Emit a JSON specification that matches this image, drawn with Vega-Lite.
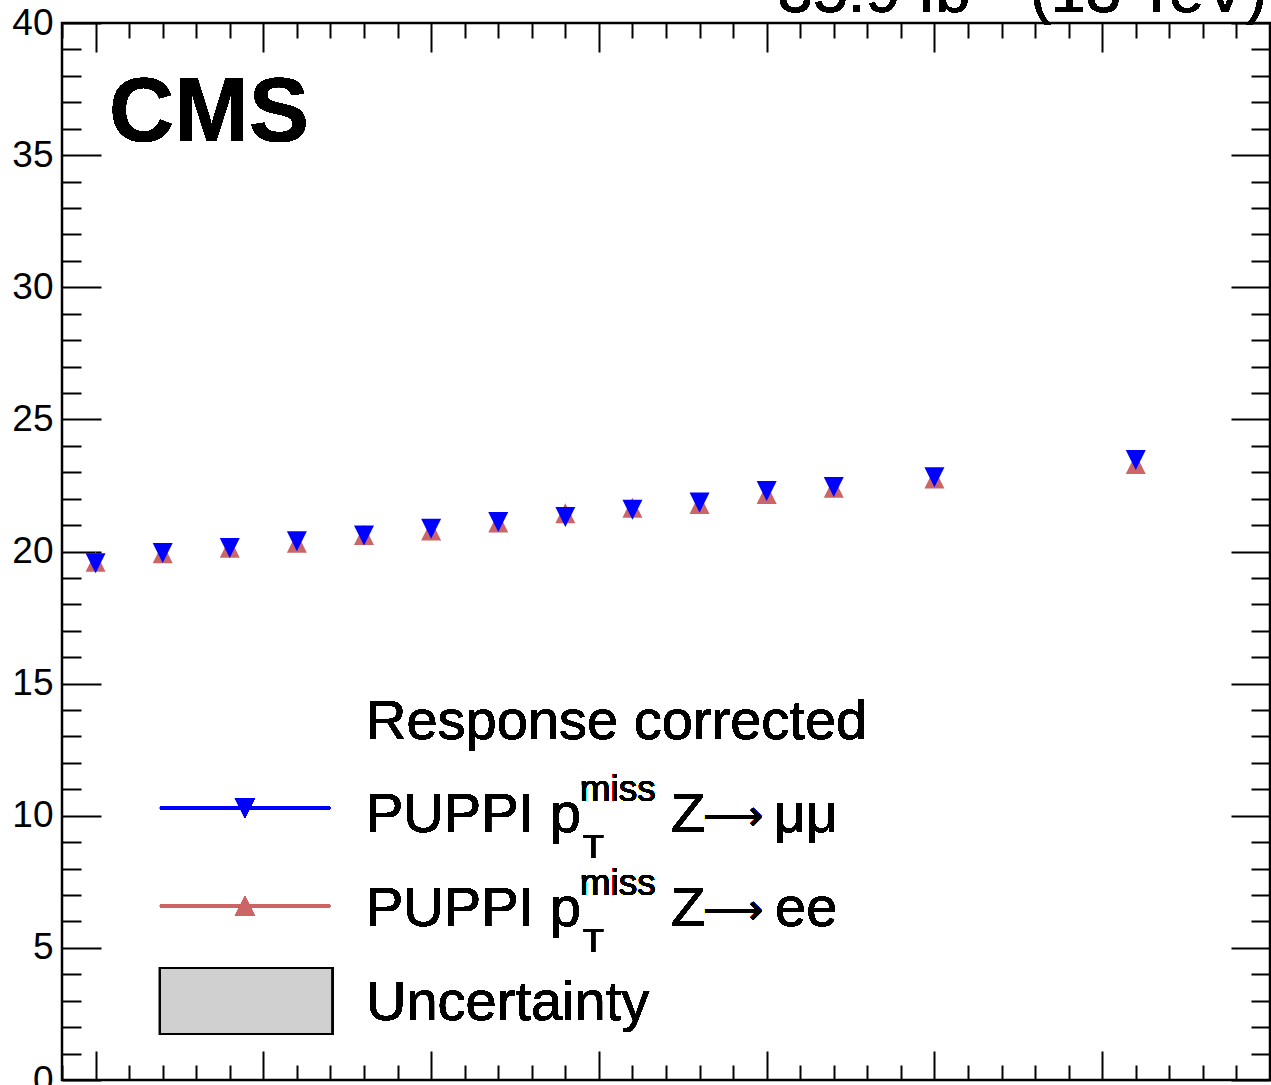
{
  "$schema": "https://vega.github.io/schema/vega-lite/v6.json",
  "width": 1208,
  "height": 1057,
  "autosize": {"type": "none"},
  "padding": {"left": 62, "top": 23, "right": 1, "bottom": 5},
  "background": "white",
  "config": {
    "view": {"stroke": "black", "strokeWidth": 2.5},
    "font": "Liberation Sans",
    "text": {"font": "Liberation Sans", "color": "black"},
    "axis": {"domain": false, "grid": false, "tickColor": "black", "tickWidth": 2, "labelFont": "Liberation Sans", "labelColor": "black", "title": null}
  },
  "data": {
    "values": [
      {"qt": 50, "res": 19.61, "ch": "ee"},
      {"qt": 70, "res": 19.93, "ch": "ee"},
      {"qt": 90, "res": 20.14, "ch": "ee"},
      {"qt": 110, "res": 20.33, "ch": "ee"},
      {"qt": 130, "res": 20.62, "ch": "ee"},
      {"qt": 150, "res": 20.79, "ch": "ee"},
      {"qt": 170, "res": 21.1, "ch": "ee"},
      {"qt": 190, "res": 21.45, "ch": "ee"},
      {"qt": 210, "res": 21.66, "ch": "ee"},
      {"qt": 230, "res": 21.8, "ch": "ee"},
      {"qt": 250, "res": 22.18, "ch": "ee"},
      {"qt": 270, "res": 22.41, "ch": "ee"},
      {"qt": 300, "res": 22.76, "ch": "ee"},
      {"qt": 360, "res": 23.31, "ch": "ee"},
      {"qt": 50, "res": 19.56, "ch": "mumu"},
      {"qt": 70, "res": 19.94, "ch": "mumu"},
      {"qt": 90, "res": 20.13, "ch": "mumu"},
      {"qt": 110, "res": 20.39, "ch": "mumu"},
      {"qt": 130, "res": 20.61, "ch": "mumu"},
      {"qt": 150, "res": 20.86, "ch": "mumu"},
      {"qt": 170, "res": 21.12, "ch": "mumu"},
      {"qt": 190, "res": 21.31, "ch": "mumu"},
      {"qt": 210, "res": 21.58, "ch": "mumu"},
      {"qt": 230, "res": 21.85, "ch": "mumu"},
      {"qt": 250, "res": 22.29, "ch": "mumu"},
      {"qt": 270, "res": 22.44, "ch": "mumu"},
      {"qt": 300, "res": 22.81, "ch": "mumu"},
      {"qt": 360, "res": 23.46, "ch": "mumu"}
    ]
  },
  "resolve": {"axis": {"x": "independent", "y": "independent"}},
  "layer": [
    {
      "mark": {"type": "point", "filled": true, "opacity": 1, "size": 400, "strokeWidth": 0},
      "encoding": {
        "x": {"field": "qt", "type": "quantitative",
          "scale": {"domain": [40, 400], "nice": false, "zero": false},
          "axis": {"orient": "bottom", "values": [50, 100, 150, 200, 250, 300, 350], "tickSize": -29, "labels": false}},
        "y": {"field": "res", "type": "quantitative",
          "scale": {"domain": [0, 40], "nice": false, "zero": false},
          "axis": {"orient": "left", "values": [0, 5, 10, 15, 20, 25, 30, 35, 40], "tickSize": -39, "labelPadding": 48, "labelFontSize": 37, "labelFlush": false, "labelOverlap": false, "labelBound": false, "labelBaseline": "middle"}},
        "shape": {"field": "ch", "type": "nominal", "legend": null,
          "scale": {"domain": ["mumu", "ee"], "range": ["M-1,-1L1,-1L0,1Z", "M-1,1L1,1L0,-1Z"]}},
        "color": {"field": "ch", "type": "nominal", "legend": null,
          "scale": {"domain": ["mumu", "ee"], "range": ["#0000ff", "#cc6666"]}}
      }
    },
    {
      "mark": {"type": "rule", "color": "#0000ff", "strokeWidth": 2.5},
      "encoding": {
        "x": {"datum": 69.2, "type": "quantitative",
          "scale": {"domain": [40, 400], "nice": false, "zero": false},
          "axis": {"orient": "bottom", "values": [40, 60, 70, 80, 90, 110, 120, 130, 140, 160, 170, 180, 190, 210, 220, 230, 240, 260, 270, 280, 290, 310, 320, 330, 340, 360, 370, 380, 390], "tickSize": -15, "labels": false}},
        "x2": {"datum": 119.9},
        "y": {"datum": 10.29, "type": "quantitative",
          "scale": {"domain": [0, 40], "nice": false, "zero": false},
          "axis": {"orient": "left", "values": [1, 2, 3, 4, 6, 7, 8, 9, 11, 12, 13, 14, 16, 17, 18, 19, 21, 22, 23, 24, 26, 27, 28, 29, 31, 32, 33, 34, 36, 37, 38, 39], "tickSize": -19, "labels": false}}
      }
    },
    {
      "mark": {"type": "rule", "color": "#cc6666", "strokeWidth": 2.5},
      "encoding": {
        "x": {"datum": 69.2, "type": "quantitative",
          "scale": {"domain": [40, 400], "nice": false, "zero": false},
          "axis": {"orient": "top", "values": [50, 100, 150, 200, 250, 300, 350], "tickSize": -29, "labels": false}},
        "x2": {"datum": 119.9},
        "y": {"datum": 6.585, "type": "quantitative",
          "scale": {"domain": [0, 40], "nice": false, "zero": false},
          "axis": {"orient": "right", "values": [0, 5, 10, 15, 20, 25, 30, 35, 40], "tickSize": -39, "labels": false}}
      }
    },
    {
      "mark": {"type": "rect", "fill": "#d0d0d0", "stroke": "black", "strokeWidth": 2},
      "encoding": {
        "x": {"datum": 69.2, "type": "quantitative",
          "scale": {"domain": [40, 400], "nice": false, "zero": false},
          "axis": {"orient": "top", "values": [40, 60, 70, 80, 90, 110, 120, 130, 140, 160, 170, 180, 190, 210, 220, 230, 240, 260, 270, 280, 290, 310, 320, 330, 340, 360, 370, 380, 390], "tickSize": -15, "labels": false}},
        "x2": {"datum": 120.5},
        "y": {"datum": 4.24, "type": "quantitative",
          "scale": {"domain": [0, 40], "nice": false, "zero": false},
          "axis": {"orient": "right", "values": [1, 2, 3, 4, 6, 7, 8, 9, 11, 12, 13, 14, 16, 17, 18, 19, 21, 22, 23, 24, 26, 27, 28, 29, 31, 32, 33, 34, 36, 37, 38, 39], "tickSize": -19, "labels": false}},
        "y2": {"datum": 1.74}
      }
    },
    {
      "mark": {"type": "point", "filled": true, "opacity": 1, "size": 400, "strokeWidth": 0, "shape": "M-1,-1L1,-1L0,1Z", "color": "#0000ff"},
      "encoding": {
        "x": {"datum": 94.5, "type": "quantitative", "axis": null, "scale": {"domain": [40, 400], "nice": false, "zero": false}},
        "y": {"datum": 10.29, "type": "quantitative", "axis": null, "scale": {"domain": [0, 40], "nice": false, "zero": false}}
      }
    },
    {
      "mark": {"type": "point", "filled": true, "opacity": 1, "size": 400, "strokeWidth": 0, "shape": "M-1,1L1,1L0,-1Z", "color": "#cc6666"},
      "encoding": {
        "x": {"datum": 94.5, "type": "quantitative", "axis": null, "scale": {"domain": [40, 400], "nice": false, "zero": false}},
        "y": {"datum": 6.585, "type": "quantitative", "axis": null, "scale": {"domain": [0, 40], "nice": false, "zero": false}}
      }
    },
    {
      "mark": {"type": "text", "text": "35.9 fb⁻¹ (13 TeV)", "fontSize": 63, "align": "right", "baseline": "alphabetic", "clip": false},
      "encoding": {
        "x": {"datum": 399.1, "type": "quantitative", "axis": null, "scale": {"domain": [40, 400], "nice": false, "zero": false}},
        "y": {"datum": 40.42, "type": "quantitative", "axis": null, "scale": {"domain": [0, 40], "nice": false, "zero": false}}
      }
    },
    {
      "mark": {"type": "text", "text": "CMS", "fontSize": 90, "fontWeight": "bold", "align": "left", "baseline": "alphabetic"},
      "encoding": {
        "x": {"datum": 54.0, "type": "quantitative", "axis": null, "scale": {"domain": [40, 400], "nice": false, "zero": false}},
        "y": {"datum": 35.55, "type": "quantitative", "axis": null, "scale": {"domain": [0, 40], "nice": false, "zero": false}}
      }
    },
    {
      "mark": {"type": "text", "text": "Response corrected", "fontSize": 56, "align": "left", "baseline": "alphabetic"},
      "encoding": {
        "x": {"datum": 130.6, "type": "quantitative", "axis": null, "scale": {"domain": [40, 400], "nice": false, "zero": false}},
        "y": {"datum": 12.9, "type": "quantitative", "axis": null, "scale": {"domain": [0, 40], "nice": false, "zero": false}}
      }
    },
    {
      "mark": {"type": "text", "text": "PUPPI p", "fontSize": 56, "align": "left", "baseline": "alphabetic"},
      "encoding": {
        "x": {"datum": 130.6, "type": "quantitative", "axis": null, "scale": {"domain": [40, 400], "nice": false, "zero": false}},
        "y": {"datum": 9.385, "type": "quantitative", "axis": null, "scale": {"domain": [0, 40], "nice": false, "zero": false}}
      }
    },
    {
      "mark": {"type": "text", "text": "miss", "fontSize": 37, "align": "left", "baseline": "alphabetic"},
      "encoding": {
        "x": {"datum": 194.3, "type": "quantitative", "axis": null, "scale": {"domain": [40, 400], "nice": false, "zero": false}},
        "y": {"datum": 10.56, "type": "quantitative", "axis": null, "scale": {"domain": [0, 40], "nice": false, "zero": false}}
      }
    },
    {
      "mark": {"type": "text", "text": "T", "fontSize": 34, "align": "left", "baseline": "alphabetic"},
      "encoding": {
        "x": {"datum": 195.3, "type": "quantitative", "axis": null, "scale": {"domain": [40, 400], "nice": false, "zero": false}},
        "y": {"datum": 8.4, "type": "quantitative", "axis": null, "scale": {"domain": [0, 40], "nice": false, "zero": false}}
      }
    },
    {
      "mark": {"type": "text", "text": "Z", "fontSize": 56, "align": "left", "baseline": "alphabetic"},
      "encoding": {
        "x": {"datum": 221.5, "type": "quantitative", "axis": null, "scale": {"domain": [40, 400], "nice": false, "zero": false}},
        "y": {"datum": 9.385, "type": "quantitative", "axis": null, "scale": {"domain": [0, 40], "nice": false, "zero": false}}
      }
    },
    {
      "mark": {"type": "text", "text": "⟶", "font": "DejaVu Sans", "fontSize": 42, "align": "left", "baseline": "middle"},
      "encoding": {
        "x": {"datum": 231.0, "type": "quantitative", "axis": null, "scale": {"domain": [40, 400], "nice": false, "zero": false}},
        "y": {"datum": 9.953, "type": "quantitative", "axis": null, "scale": {"domain": [0, 40], "nice": false, "zero": false}}
      }
    },
    {
      "mark": {"type": "text", "text": "μμ", "fontSize": 56, "align": "left", "baseline": "alphabetic"},
      "encoding": {
        "x": {"datum": 252.0, "type": "quantitative", "axis": null, "scale": {"domain": [40, 400], "nice": false, "zero": false}},
        "y": {"datum": 9.385, "type": "quantitative", "axis": null, "scale": {"domain": [0, 40], "nice": false, "zero": false}}
      }
    },
    {
      "mark": {"type": "text", "text": "PUPPI p", "fontSize": 56, "align": "left", "baseline": "alphabetic"},
      "encoding": {
        "x": {"datum": 130.6, "type": "quantitative", "axis": null, "scale": {"domain": [40, 400], "nice": false, "zero": false}},
        "y": {"datum": 5.83, "type": "quantitative", "axis": null, "scale": {"domain": [0, 40], "nice": false, "zero": false}}
      }
    },
    {
      "mark": {"type": "text", "text": "miss", "fontSize": 37, "align": "left", "baseline": "alphabetic"},
      "encoding": {
        "x": {"datum": 194.3, "type": "quantitative", "axis": null, "scale": {"domain": [40, 400], "nice": false, "zero": false}},
        "y": {"datum": 7.0, "type": "quantitative", "axis": null, "scale": {"domain": [0, 40], "nice": false, "zero": false}}
      }
    },
    {
      "mark": {"type": "text", "text": "T", "fontSize": 34, "align": "left", "baseline": "alphabetic"},
      "encoding": {
        "x": {"datum": 195.3, "type": "quantitative", "axis": null, "scale": {"domain": [40, 400], "nice": false, "zero": false}},
        "y": {"datum": 4.84, "type": "quantitative", "axis": null, "scale": {"domain": [0, 40], "nice": false, "zero": false}}
      }
    },
    {
      "mark": {"type": "text", "text": "Z", "fontSize": 56, "align": "left", "baseline": "alphabetic"},
      "encoding": {
        "x": {"datum": 221.5, "type": "quantitative", "axis": null, "scale": {"domain": [40, 400], "nice": false, "zero": false}},
        "y": {"datum": 5.83, "type": "quantitative", "axis": null, "scale": {"domain": [0, 40], "nice": false, "zero": false}}
      }
    },
    {
      "mark": {"type": "text", "text": "⟶", "font": "DejaVu Sans", "fontSize": 42, "align": "left", "baseline": "middle"},
      "encoding": {
        "x": {"datum": 231.0, "type": "quantitative", "axis": null, "scale": {"domain": [40, 400], "nice": false, "zero": false}},
        "y": {"datum": 6.395, "type": "quantitative", "axis": null, "scale": {"domain": [0, 40], "nice": false, "zero": false}}
      }
    },
    {
      "mark": {"type": "text", "text": "ee", "fontSize": 56, "align": "left", "baseline": "alphabetic"},
      "encoding": {
        "x": {"datum": 252.5, "type": "quantitative", "axis": null, "scale": {"domain": [40, 400], "nice": false, "zero": false}},
        "y": {"datum": 5.83, "type": "quantitative", "axis": null, "scale": {"domain": [0, 40], "nice": false, "zero": false}}
      }
    },
    {
      "mark": {"type": "text", "text": "Uncertainty", "fontSize": 56, "align": "left", "baseline": "alphabetic"},
      "encoding": {
        "x": {"datum": 130.6, "type": "quantitative", "axis": null, "scale": {"domain": [40, 400], "nice": false, "zero": false}},
        "y": {"datum": 2.27, "type": "quantitative", "axis": null, "scale": {"domain": [0, 40], "nice": false, "zero": false}}
      }
    }
  ]
}
